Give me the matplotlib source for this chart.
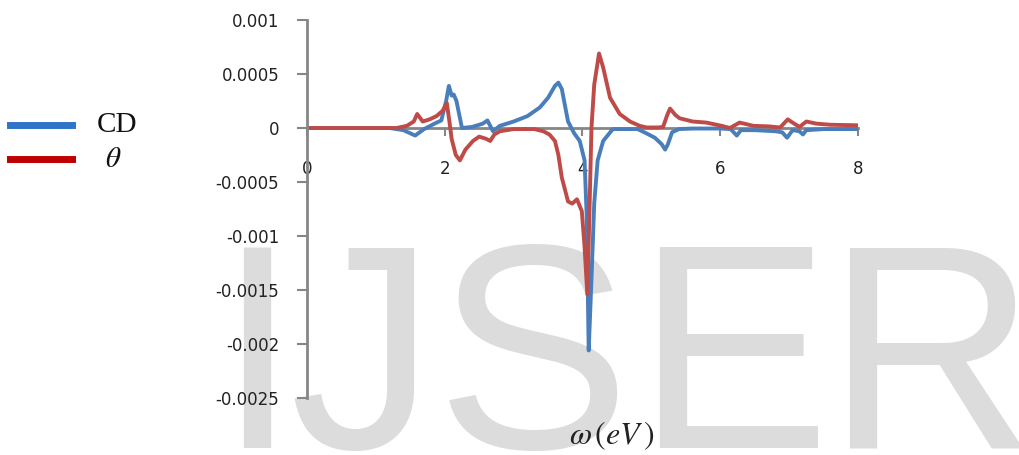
import matplotlib
matplotlib.use("Agg")
import matplotlib.pyplot as plt
from matplotlib.lines import Line2D

plt.rcParams['mathtext.fontset'] = 'stix'

# CD spectrum
omega_cd = [0, 1.2, 1.4, 1.57, 1.7, 1.85, 1.95, 2.02, 2.06, 2.1, 2.13, 2.17, 2.25,
            2.4, 2.55, 2.62, 2.7, 2.8, 3.0, 3.2, 3.38, 3.5, 3.6, 3.65, 3.7, 3.79,
            3.88, 3.96, 4.03, 4.06, 4.09, 4.13, 4.17, 4.22, 4.3, 4.44, 4.6, 4.8,
            4.93, 5.05, 5.15, 5.2, 5.24, 5.3, 5.4, 5.6, 6.0, 6.15, 6.24, 6.3, 6.5,
            6.8, 6.9, 6.97, 7.05, 7.15, 7.2, 7.25, 7.5, 7.8, 8.0]
cd = [0, 0, -0.2, -0.7, -0.1, 0.4, 0.7, 2.5, 3.9, 3.0, 3.1, 2.5, 0.0,
      0.1, 0.4, 0.7, -0.3, 0.2, 0.6, 1.1, 1.9, 2.8, 3.9, 4.2, 3.6, 0.6,
      -0.5, -1.2, -3.0, -8.0, -20.6, -14.0, -7.0, -3.0, -1.2, -0.1, -0.1, -0.1,
      -0.5, -0.9, -1.5, -2.0, -1.5, -0.4, -0.1, -0.05, -0.05, -0.1, -0.7, -0.2, -0.2,
      -0.3, -0.4, -0.9, -0.2, -0.3, -0.6, -0.2, -0.1, -0.1, -0.1]
cd = [v * 1e-4 for v in cd]

# theta
omega_th = [0, 1.3, 1.45, 1.55, 1.6, 1.68, 1.78, 1.88, 1.97, 2.03, 2.07, 2.1, 2.16,
            2.22, 2.3, 2.41, 2.5, 2.6, 2.66, 2.72, 2.8, 3.0, 3.3, 3.43, 3.52, 3.6,
            3.65, 3.7, 3.79, 3.85, 3.92, 3.99, 4.03, 4.07, 4.1, 4.13, 4.17, 4.24,
            4.3, 4.4, 4.54, 4.69, 4.83, 4.93, 5.1, 5.17, 5.23, 5.27, 5.35, 5.41,
            5.6, 5.8, 6.02, 6.14, 6.28, 6.35, 6.48, 6.7, 6.87, 6.98, 7.05, 7.15,
            7.25, 7.4, 7.6, 8.0]
theta = [0, 0, 0.2, 0.6, 1.3, 0.6, 0.8, 1.1, 1.6, 2.3, 0.5, -1.0, -2.5,
         -3.0, -2.0, -1.2, -0.8, -1.0, -1.2, -0.6, -0.3, -0.1, -0.1, -0.3, -0.6, -1.2,
         -2.5, -4.6, -6.8, -7.0, -6.6, -7.7, -11.0, -15.4, -8.0, 0.0, 4.0, 6.9,
         5.6, 2.8, 1.3, 0.6, 0.2, 0.05, 0.05, 0.1, 1.2, 1.8, 1.2, 0.9,
         0.6, 0.5, 0.2, 0.0, 0.5, 0.4, 0.2, 0.15, 0.05, 0.8, 0.5, 0.1,
         0.6, 0.4, 0.3, 0.25]
theta = [v * 1e-4 for v in theta]

xticks = [0, 2, 4, 6, 8]
yticks = [0.001, 0.0005, 0, -0.0005, -0.001, -0.0015, -0.002, -0.0025]
ytick_labels = ['0.001', '0.0005', '0', '-0.0005', '-0.001', '-0.0015', '-0.002', '-0.0025']

fig = plt.figure(figsize=(10.2, 4.55), dpi=100)

# watermark behind everything
for ch, xc in zip("IJSER", [257, 362, 533, 732, 930]):
    fig.text(xc / 1020, 1 - 448 / 455, ch, ha='center', va='baseline',
             fontsize=210, family='Liberation Sans', color='#dcdcdc', zorder=-5)

ax = fig.add_axes([307 / 1020, 1 - 398 / 455, (858 - 307) / 1020, (398 - 20) / 455])
ax.patch.set_alpha(0)

ax.plot(omega_cd, cd, color='#4a7ebb', lw=2.8, solid_capstyle='round')
ax.plot(omega_th, theta, color='#be4b48', lw=2.8, solid_capstyle='round')

ax.set_xlim(0, 8)
ax.set_ylim(-0.0025, 0.001)
ax.set_xticks(xticks)
ax.set_xticklabels([str(t) for t in xticks])
ax.set_yticks(yticks)
ax.set_yticklabels(ytick_labels)

axis_gray = '#868686'
ax.spines['top'].set_visible(False)
ax.spines['right'].set_visible(False)
ax.spines['bottom'].set_position(('data', 0))
ax.spines['left'].set_color(axis_gray)
ax.spines['bottom'].set_color(axis_gray)
ax.spines['left'].set_linewidth(2)
ax.spines['bottom'].set_linewidth(2)
ax.spines['bottom'].set_zorder(1)
ax.tick_params(axis='y', direction='out', length=7, width=1.5, color=axis_gray,
               labelsize=12, labelcolor='#222222', pad=13)
ax.tick_params(axis='x', direction='out', length=6, width=1.5, color=axis_gray,
               labelsize=12, labelcolor='#222222', pad=17)

fig.text(612 / 1020, 1 - 436 / 455, r'$\omega\,(eV\,)$', ha='center', va='center',
         fontsize=23, color='#222222')

# legend, drawn by hand to sit left of the axes
for ypix, col, label, fam in [(125, '#2e75c9', 'CD', 'Liberation Serif'),
                              (159, '#c00000', r'$\theta$', None)]:
    yf = 1 - ypix / 455
    fig.add_artist(Line2D([10 / 1020, 72 / 1020], [yf, yf], color=col, lw=5,
                          transform=fig.transFigure))
    x0 = 97 if label == 'CD' else 105
    fig.text(x0 / 1020, yf, label, ha='left', va='center', fontsize=21,
             family=fam, color='#111111')

fig.savefig('out.png', dpi=100)
